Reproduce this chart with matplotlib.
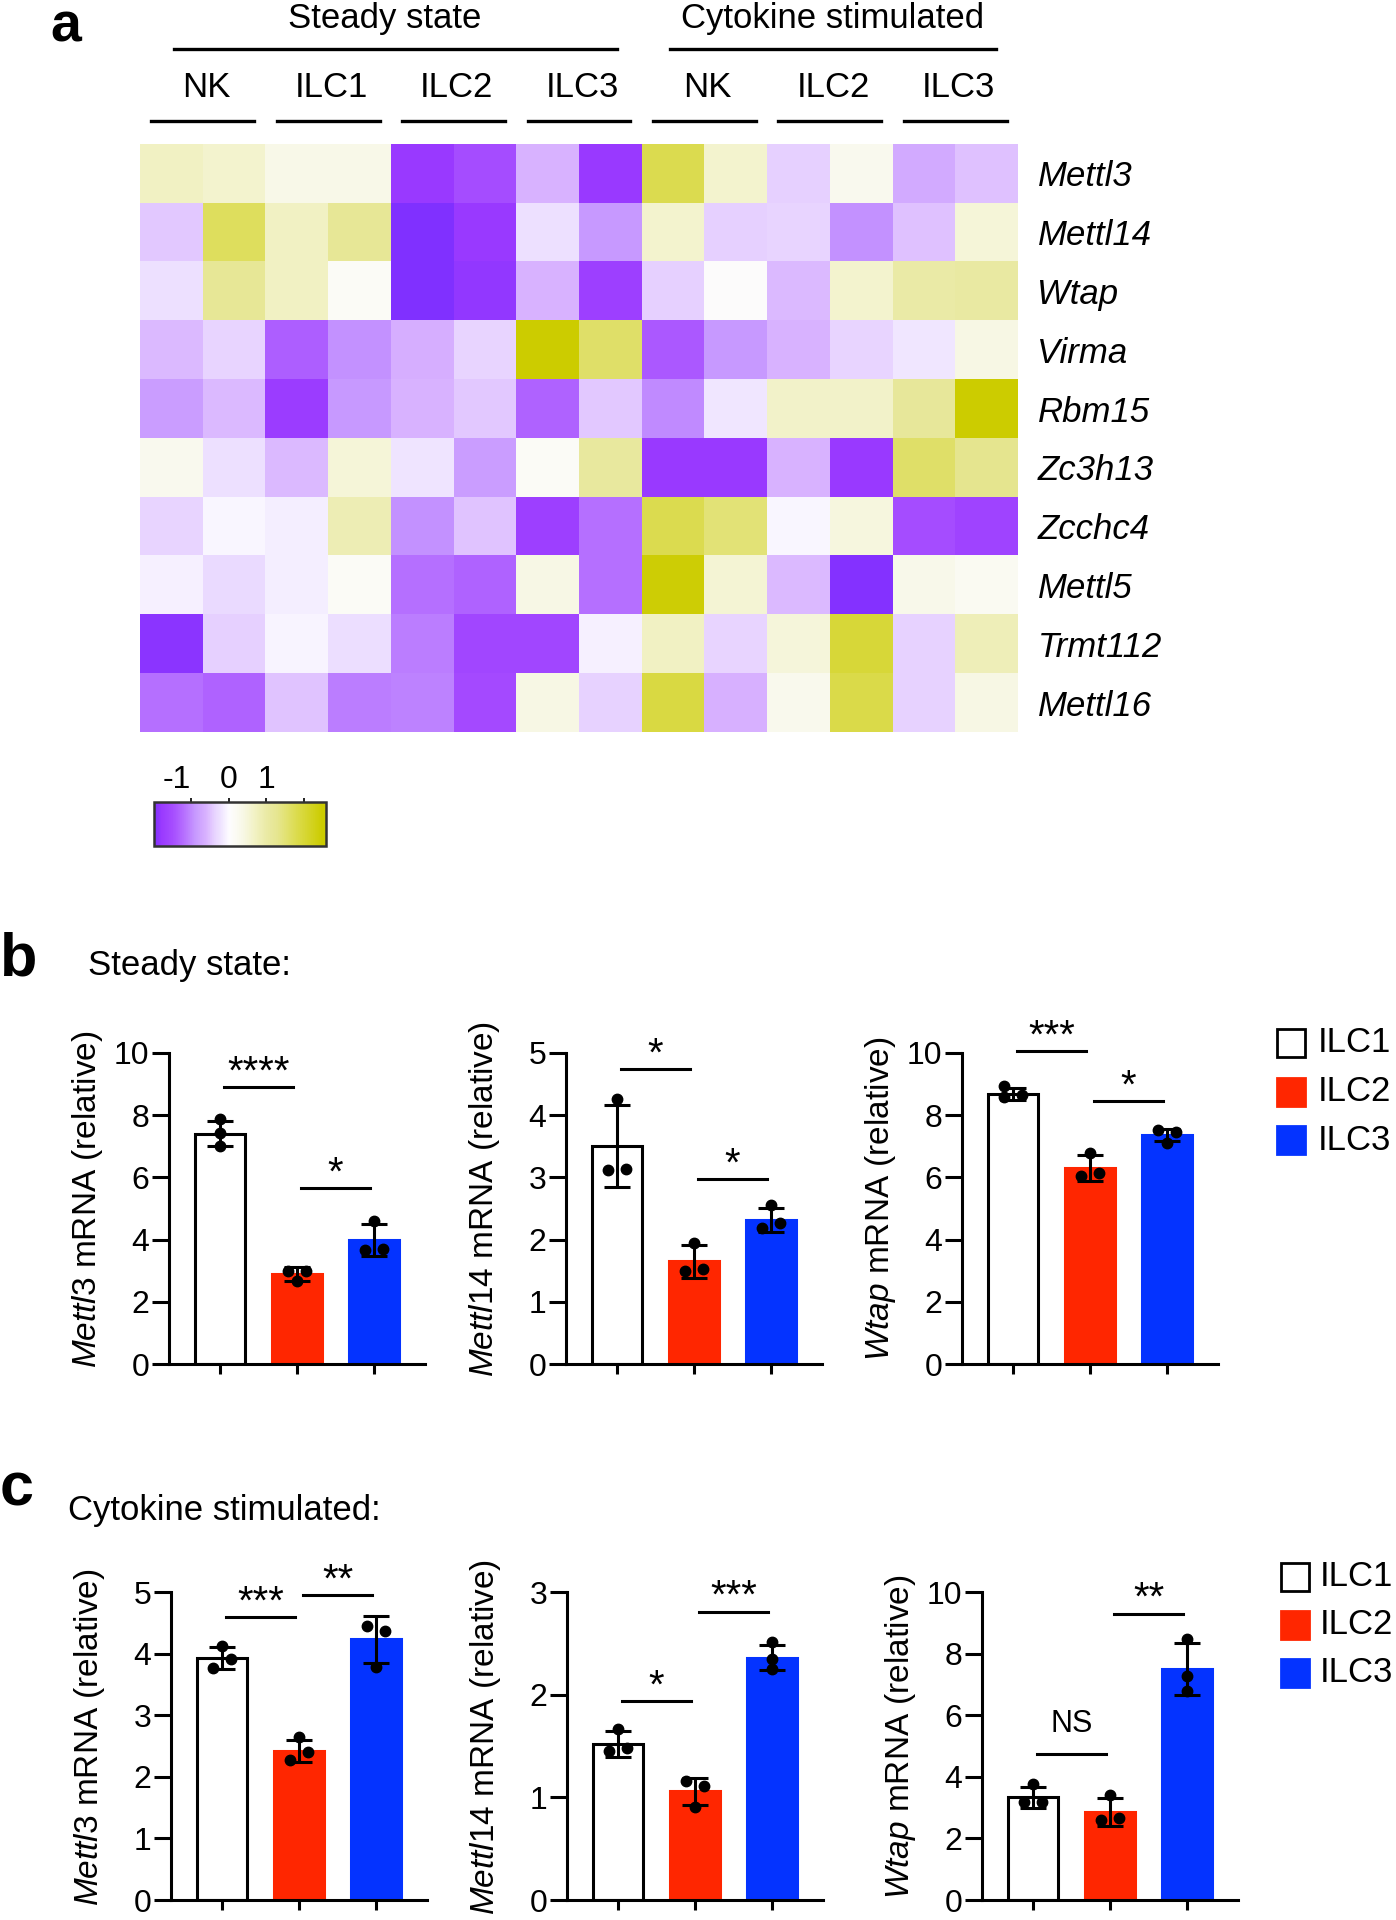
import numpy as np
import matplotlib
matplotlib.use('Agg')
import matplotlib.pyplot as plt
from matplotlib.colors import LinearSegmentedColormap, Normalize
from matplotlib.patches import Rectangle
from matplotlib.transforms import blended_transform_factory

plt.rcParams['font.family'] = ['Liberation Sans', 'DejaVu Sans']
plt.rcParams['mathtext.fontset'] = 'custom'
plt.rcParams['mathtext.rm'] = 'Liberation Sans'
plt.rcParams['mathtext.it'] = 'Liberation Sans:italic'

# ---- panel a: heatmap data (z-scores) ----
genes = ['Mettl3', 'Mettl14', 'Wtap', 'Virma', 'Rbm15', 'Zc3h13',
         'Zcchc4', 'Mettl5', 'Trmt112', 'Mettl16']
groups_top = ['Steady state', 'Cytokine stimulated']
groups_sub = ['NK', 'ILC1', 'ILC2', 'ILC3', 'NK', 'ILC2', 'ILC3']
heat = [
    [0.7, 0.6, 0.35, 0.35, -1.8, -1.5, -0.6, -1.8, 1.8, 0.6, -0.4, 0.25, -0.7, -0.5],
    [-0.45, 1.7, 0.7, 1.2, -2.0, -1.8, -0.25, -0.9, 0.6, -0.4, -0.35, -0.95, -0.5, 0.5],
    [-0.25, 1.2, 0.7, 0.15, -2.0, -1.85, -0.6, -1.7, -0.4, 0.05, -0.55, 0.6, 1.0, 1.05],
    [-0.55, -0.35, -1.35, -0.95, -0.65, -0.35, 2.5, 1.6, -1.4, -0.9, -0.6, -0.35, -0.2, 0.4],
    [-0.85, -0.55, -1.75, -0.9, -0.6, -0.45, -1.3, -0.45, -1.0, -0.2, 0.65, 0.65, 1.15, 2.5],
    [0.25, -0.25, -0.55, 0.5, -0.22, -0.85, 0.15, 1.1, -1.8, -1.8, -0.6, -1.8, 1.6, 1.3],
    [-0.35, -0.05, -0.12, 0.85, -0.95, -0.48, -1.7, -1.2, 1.8, 1.5, -0.05, 0.45, -1.5, -1.65],
    [-0.1, -0.3, -0.13, 0.15, -1.2, -1.3, 0.38, -1.2, 2.45, 0.55, -0.55, -1.95, 0.3, 0.2],
    [-1.9, -0.4, -0.07, -0.27, -1.1, -1.6, -1.6, -0.1, 0.7, -0.35, 0.48, 2.0, -0.37, 0.82],
    [-1.2, -1.3, -0.48, -1.1, -1.05, -1.55, 0.4, -0.37, 1.9, -0.62, 0.28, 1.85, -0.37, 0.4],
]

# ---- panels b, c: qPCR bars ----
cells = ['ILC1', 'ILC2', 'ILC3']

b_mettl3_mean = [7.41, 2.90, 3.99]
b_mettl3_sd = [0.41, 0.22, 0.52]
b_mettl3_pts = [[7.87, 7.44, 7.01], [3.00, 3.00, 2.66], [4.60, 3.68, 3.70]]

b_mettl14_mean = [3.50, 1.65, 2.32]
b_mettl14_sd = [0.66, 0.26, 0.19]
b_mettl14_pts = [[4.26, 3.12, 3.14], [1.94, 1.49, 1.52], [2.55, 2.19, 2.26]]

b_wtap_mean = [8.68, 6.30, 7.36]
b_wtap_sd = [0.19, 0.42, 0.20]
b_wtap_pts = [[8.93, 8.59, 8.66], [6.80, 6.04, 6.14], [7.52, 7.47, 7.10]]

c_mettl3_mean = [3.93, 2.42, 4.23]
c_mettl3_sd = [0.18, 0.18, 0.38]
c_mettl3_pts = [[4.13, 3.77, 3.91], [2.64, 2.28, 2.40], [4.44, 4.37, 3.78]]

c_mettl14_mean = [1.52, 1.06, 2.36]
c_mettl14_sd = [0.13, 0.13, 0.12]
c_mettl14_pts = [[1.67, 1.45, 1.48], [1.16, 1.11, 0.91], [2.51, 2.35, 2.25]]

c_wtap_mean = [3.33, 2.86, 7.50]
c_wtap_sd = [0.35, 0.45, 0.83]
c_wtap_pts = [[3.76, 3.19, 3.19], [3.42, 2.61, 2.66], [8.46, 7.28, 6.78]]

# significance: (group i, group j, height, label)
b_mettl3_sig = [(0, 1, 8.9, '****'), (1, 2, 5.66, '*')]
b_mettl14_sig = [(0, 1, 4.74, '*'), (1, 2, 2.98, '*')]
b_wtap_sig = [(0, 1, 10.07, '***'), (1, 2, 8.46, '*')]
c_mettl3_sig = [(0, 1, 4.59, '***'), (1, 2, 4.95, '**')]
c_mettl14_sig = [(0, 1, 1.94, '*'), (1, 2, 2.81, '***')]
c_wtap_sig = [(0, 1, 4.75, 'NS'), (1, 2, 9.30, '**')]

# horizontal jitter of the dots (layout only)
J = 0.12
jit_a = [[0, 0, 0], [-J, J, 0], [0, -J, J]]
jit_b = [[0, -J, J], [0, -J, J], [0, -J, J]]
jit_c = [[-J, -J, J], [0, -J, J], [-J, J, 0]]
jit_d = [[0, -J, J], [0, -J, J], [-J, J, 0]]
jit_e = [[0, -J, J], [-J, J, 0], [0, 0, 0]]
jit_f = [[0, -J, J], [0, -J, J], [0, 0, 0]]

bar_colors = ['white', '#FF2600', '#0433FF']
bar_edges = ['black', '#FF2600', '#0433FF']

W, H = 1396, 1920
fig = plt.figure(figsize=(W / 100, H / 100), dpi=100)


def px_axes(left, top, right, bottom):
    return fig.add_axes([left / W, 1 - bottom / H, (right - left) / W, (bottom - top) / H])


def fy(py):
    return 1 - py / H


# ---------------- heatmap ----------------
cmap = LinearSegmentedColormap.from_list('pw', [
    (0.0, '#8030ff'), (0.2 / 4.6, '#9a3aff'), (0.5 / 4.6, '#a64dff'),
    (0.8 / 4.6, '#b670ff'), (1.1 / 4.6, '#c799ff'), (1.4 / 4.6, '#d9b3ff'),
    (1.6 / 4.6, '#e6d0ff'), (1.8 / 4.6, '#f0e6ff'), (2.0 / 4.6, '#fdfcff'),
    (2.2 / 4.6, '#fbfbf3'), (2.4 / 4.6, '#f7f7e4'), (2.7 / 4.6, '#f2f2c4'),
    (3.0 / 4.6, '#eaeaa6'), (3.3 / 4.6, '#e6e690'), (3.8 / 4.6, '#dcdc50'),
    (4.5 / 4.6, '#cccc00'), (1.0, '#cccc00')])
norm = Normalize(vmin=-2, vmax=2.6)

hm = px_axes(140, 144, 1018, 732)
im = hm.imshow(np.array(heat), cmap=cmap, norm=norm, aspect='auto',
               interpolation='nearest')
hm.set_xticks([])
hm.yaxis.tick_right()
hm.set_yticks(range(len(genes)))
hm.set_yticklabels(genes, fontstyle='italic', fontsize=25)
hm.tick_params(axis='y', length=0, pad=14)
for s in hm.spines.values():
    s.set_visible(False)

tr = blended_transform_factory(hm.transData, fig.transFigure)
top_spans = [(-0.5 + 0.54, 7.5 - 0.4), (7.5 + 0.45, 13.5 - 0.35)]
top_text_x = [3.4, 10.54]
for name, (x0, x1), tx in zip(groups_top, top_spans, top_text_x):
    hm.plot([x0, x1], [fy(49)] * 2, color='black', lw=2.4, transform=tr, clip_on=False)
    hm.text(tx, fy(28), name, transform=tr, ha='center',
            va='baseline', fontsize=25)
for k, name in enumerate(groups_sub):
    x0, x1 = 2 * k - 0.5 + 0.18, 2 * k + 1.5 - 0.18
    hm.plot([x0, x1], [fy(121)] * 2, color='black', lw=2.4, transform=tr, clip_on=False)
    hm.text(2 * k + 0.55, fy(97), name, transform=tr, ha='center',
            va='baseline', fontsize=25)

cax = px_axes(154, 802, 326, 846)
cb = fig.colorbar(im, cax=cax, orientation='horizontal')
cax.xaxis.set_ticks_position('top')
cb.set_ticks([-1, 0, 1, 2])
cb.set_ticklabels(['-1', '0', '1', ''])
cax.tick_params(length=3, width=1.2, labelsize=23, pad=2)
cax.get_xticklabels()[0].set_horizontalalignment('right')
cb.outline.set_linewidth(1.8)
cb.outline.set_edgecolor('#333333')

fig.text(50 / W, fy(41), 'a', fontsize=40, fontweight='bold', va='baseline')


# ---------------- bar panels ----------------
def bar_panel(left, top, bottom, means, sds, pts, jit, ymax, step, gene, sigs):
    ax = px_axes(left, top, left + 256, bottom)
    x = np.arange(len(cells))
    ax.bar(x, means, width=0.65, color=bar_colors, edgecolor=bar_edges,
           linewidth=2.2, zorder=2)
    ax.errorbar(x, means, yerr=sds, fmt='none', ecolor='black',
                elinewidth=2.2, capsize=9.5, capthick=2.2, zorder=3)
    for i in range(len(cells)):
        ax.plot(np.array(jit[i]) + i, pts[i], 'o', color='black', ms=7.5,
                zorder=4, clip_on=False)
    ax.set_xlim(-0.66, 2.66)
    ax.set_ylim(0, ymax)
    ax.set_yticks(np.arange(0, ymax + 0.01, step))
    ax.set_yticklabels([f'{v:g}' for v in np.arange(0, ymax + 0.01, step)])
    ax.set_xticks(x)
    ax.set_xticklabels([])
    for s in ['top', 'right']:
        ax.spines[s].set_visible(False)
    for s in ['left', 'bottom']:
        ax.spines[s].set_linewidth(2.2)
    ax.tick_params(axis='y', length=12, width=2.2, labelsize=23, pad=2)
    ax.tick_params(axis='x', length=7, width=2.2)
    ax.set_ylabel(r'$\mathit{' + gene + r'}$ mRNA (relative)', fontsize=24)
    ax.yaxis.set_label_coords(-64 / 256, 0.53)
    for i, j, y, lab in sigs:
        ax.plot([i + 0.05, j - 0.05], [y, y], color='black', lw=2.2, clip_on=False)
        if lab == 'NS':
            ax.annotate(lab, xy=((i + j) / 2, y), xytext=(0, 15.5),
                        textcoords='offset points', ha='center', va='baseline',
                        fontsize=22, annotation_clip=False)
        else:
            ax.annotate(lab, xy=((i + j) / 2, y), xytext=(0, 2.5),
                        textcoords='offset points', ha='center', va='baseline',
                        fontsize=29, annotation_clip=False)
    return ax


def legend_block(sq_left, first_top, gap, text_left):
    for k, name in enumerate(cells):
        t = first_top + k * gap
        fig.add_artist(Rectangle((sq_left / W, fy(t + 28)), 28 / W, 28 / H,
                                 transform=fig.transFigure,
                                 facecolor=bar_colors[k],
                                 edgecolor=bar_edges[k],
                                 linewidth=2.0))
        fig.text(text_left / W, fy(t + 14), name, fontsize=25, va='center')


# panel b
fig.text(0, fy(975), 'b', fontsize=44, fontweight='bold', va='baseline')
fig.text(88 / W, fy(975), 'Steady state:', fontsize=25, va='baseline')
bar_panel(169, 1053, 1364, b_mettl3_mean, b_mettl3_sd, b_mettl3_pts, jit_a, 10, 2, 'Mettl3', b_mettl3_sig)
bar_panel(566, 1053, 1364, b_mettl14_mean, b_mettl14_sd, b_mettl14_pts, jit_b, 5, 1, 'Mettl14', b_mettl14_sig)
bar_panel(962, 1053, 1364, b_wtap_mean, b_wtap_sd, b_wtap_pts, jit_c, 10, 2, 'Wtap', b_wtap_sig)
legend_block(1277, 1029, 48.5, 1318)

# panel c
fig.text(0, fy(1506), 'c', fontsize=44, fontweight='bold', va='baseline')
fig.text(68 / W, fy(1520), 'Cytokine stimulated:', fontsize=25, va='baseline')
bar_panel(171, 1592, 1900, c_mettl3_mean, c_mettl3_sd, c_mettl3_pts, jit_d, 5, 1, 'Mettl3', c_mettl3_sig)
bar_panel(567, 1592, 1900, c_mettl14_mean, c_mettl14_sd, c_mettl14_pts, jit_e, 3, 1, 'Mettl14', c_mettl14_sig)
bar_panel(982, 1592, 1900, c_wtap_mean, c_wtap_sd, c_wtap_pts, jit_f, 10, 2, 'Wtap', c_wtap_sig)
legend_block(1281, 1563, 48, 1320)

fig.savefig('out.png', dpi=100)
